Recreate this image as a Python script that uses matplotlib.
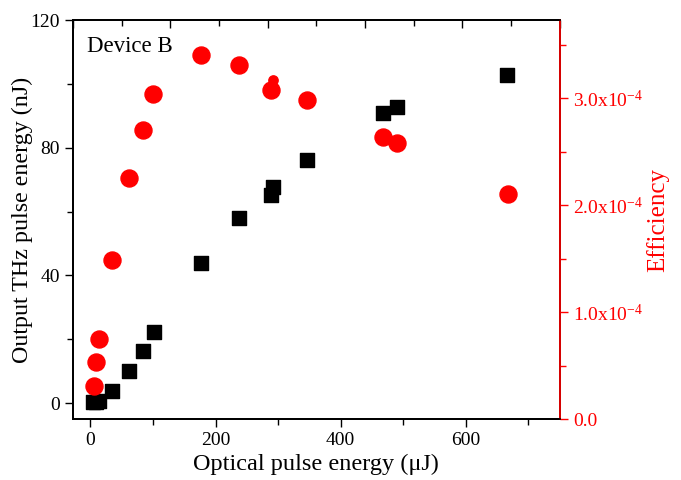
import matplotlib
matplotlib.use('Agg')
import matplotlib.pyplot as plt
from matplotlib.ticker import MultipleLocator, FuncFormatter

plt.rcParams['font.family'] = ['Liberation Serif', 'DejaVu Serif']
plt.rcParams['mathtext.default'] = 'regular'
plt.rcParams['mathtext.fontset'] = 'custom'
plt.rcParams['mathtext.rm'] = 'Liberation Serif'

# Output THz pulse energy (left axis)
energy_x = [4, 9, 14, 35, 61, 84, 101, 176, 238, 289, 292, 346, 467, 490, 665]
energy_y = [0.2, 0.4, 0.8, 3.8, 10.0, 16.3, 22.3, 43.9, 58.0, 65.2, 67.7, 76.2, 90.9, 92.8, 102.8]

# Efficiency (right axis), units of 1e-4
eff_x = [5, 9, 13, 35, 62, 84, 100, 176, 238, 289, 346, 467, 490, 667]
eff_y = [0.31, 0.53, 0.75, 1.49, 2.25, 2.70, 3.04, 3.40, 3.31, 3.08, 2.98, 2.64, 2.58, 2.10]
# smaller extra point near 290 uJ
eff_small_x = [292]
eff_small_y = [3.17]

fig = plt.figure(figsize=(6.81, 4.8), dpi=100)
ax = fig.add_axes([0.107, 0.127, 0.715, 0.831])

ax.scatter(energy_x, energy_y, marker='s', s=110, color='black', zorder=3)
ax.set_xlim(-28, 750)
ax.set_ylim(-5, 120)
ax.xaxis.set_major_locator(MultipleLocator(200))
ax.xaxis.set_minor_locator(MultipleLocator(100))
ax.yaxis.set_major_locator(MultipleLocator(40))
ax.yaxis.set_minor_locator(MultipleLocator(20))
ax.tick_params(which='both', direction='out', top=False, right=False, labelsize=14)
ax.tick_params(which='major', length=6, width=1)
ax.tick_params(which='minor', length=4, width=1)
ax.set_xlabel('Optical pulse energy (\u03bcJ)', fontsize=17.5, labelpad=3)
ax.set_ylabel('Output THz pulse energy (nJ)', fontsize=17.3)
ax.yaxis.set_label_coords(-0.082, 0.5)
ax.text(0.03, 0.96, 'Device B', transform=ax.transAxes, fontsize=16.5, va='top')

# top axis: ticks only, inward
top = ax.twiny()
top.set_xlim(0, 1)
top.xaxis.set_major_locator(MultipleLocator(0.2))
top.xaxis.set_minor_locator(MultipleLocator(0.1))
top.tick_params(which='both', direction='in', labeltop=False)
top.tick_params(which='major', length=6, width=1)
top.tick_params(which='minor', length=4, width=1)

ax2 = ax.twinx()
ax2.scatter(eff_x, eff_y, marker='o', s=150, color='red', zorder=3)
ax2.scatter(eff_small_x, eff_small_y, marker='o', s=45, color='red', zorder=2)
ax2.set_ylim(0, 3.73)
ax2.yaxis.set_major_locator(MultipleLocator(1.0))
ax2.yaxis.set_minor_locator(MultipleLocator(0.5))
ax2.yaxis.set_major_formatter(FuncFormatter(
    lambda v, p: '0.0' if abs(v) < 1e-9 else '%.1fx10$^{-4}$' % v))
ax2.tick_params(which='both', direction='out', colors='red', labelsize=14)
ax2.tick_params(which='major', length=6, width=1)
ax2.tick_params(which='minor', length=4, width=1)
ax2.set_ylabel('Efficiency', color='red', fontsize=18)
ax2.yaxis.set_label_coords(1.177, 0.5)

for a in (ax, top, ax2):
    for s in a.spines.values():
        s.set_linewidth(1.2)
ax2.spines['right'].set_color('red')

fig.savefig('out.png', dpi=100)
